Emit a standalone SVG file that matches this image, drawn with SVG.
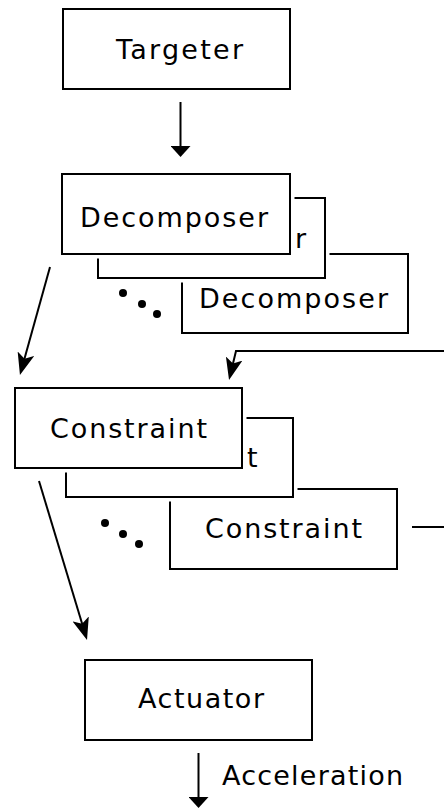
<svg xmlns="http://www.w3.org/2000/svg" width="444" height="809" viewBox="0 0 444 809">
  <style>
    .box{fill:#fff;stroke:#000;stroke-width:2}
    .halo{fill:#fff;stroke:#fff;stroke-width:9}
    .lbl{font-family:"DejaVu Sans",Verdana,sans-serif;font-size:27px;fill:#000}
    .wire{fill:none;stroke:#000;stroke-width:2}
    .dot{fill:#000}
  </style>
  <defs>
    <!-- short, wide head for straight vertical arrows -->
    <marker id="head-flat" viewBox="0 0 11 20" refX="6" refY="10" markerWidth="11" markerHeight="20" orient="auto" markerUnits="userSpaceOnUse">
      <path d="M0,0 L11,10 L0,20 z" fill="#000"/>
    </marker>
    <!-- long, notched head for slanted arrows -->
    <marker id="head-long" viewBox="0 0 22 17" refX="14" refY="8.5" markerWidth="22" markerHeight="17" orient="auto" markerUnits="userSpaceOnUse">
      <path d="M0,0 L22,8.5 L0,17 L5,8.5 z" fill="#000"/>
    </marker>
  </defs>

  <rect width="444" height="809" fill="#fff"/>

  <g id="targeter">
    <rect class="box" x="63" y="9" width="227" height="80"/>
    <text class="lbl" x="116" y="59" textLength="127" lengthAdjust="spacing">Targeter</text>
  </g>

  <!-- stack of decomposers, back to front -->
  <g id="decomposer-3">
    <rect class="box" x="182" y="254" width="226" height="79"/>
    <text class="lbl" x="199" y="308" textLength="189" lengthAdjust="spacing">Decomposer</text>
  </g>
  <g id="decomposer-2">
    <rect class="halo" x="98" y="198" width="227" height="80"/>
    <rect class="box" x="98" y="198" width="227" height="80"/>
    <text class="lbl" x="295" y="248">r</text>
  </g>
  <g id="decomposer-1">
    <rect class="halo" x="62" y="174" width="228" height="80"/>
    <rect class="box" x="62" y="174" width="228" height="80"/>
    <text class="lbl" x="80" y="227" textLength="188" lengthAdjust="spacing">Decomposer</text>
  </g>
  <g id="decomposer-more">
    <circle class="dot" cx="123" cy="293" r="4"/>
    <circle class="dot" cx="142" cy="304" r="4"/>
    <circle class="dot" cx="157" cy="314" r="4"/>
  </g>

  <!-- stack of constraints, back to front -->
  <g id="constraint-3">
    <rect class="box" x="170" y="489" width="227" height="80"/>
    <text class="lbl" x="205" y="538" textLength="157" lengthAdjust="spacing">Constraint</text>
  </g>
  <g id="constraint-2">
    <rect class="halo" x="66" y="418" width="227" height="79"/>
    <rect class="box" x="66" y="418" width="227" height="79"/>
    <text class="lbl" x="247" y="467">t</text>
  </g>
  <g id="constraint-1">
    <rect class="halo" x="15" y="388" width="227" height="80"/>
    <rect class="box" x="15" y="388" width="227" height="80"/>
    <text class="lbl" x="50" y="438" textLength="157" lengthAdjust="spacing">Constraint</text>
  </g>
  <g id="constraint-more">
    <circle class="dot" cx="105" cy="523" r="4"/>
    <circle class="dot" cx="123" cy="534" r="4"/>
    <circle class="dot" cx="139" cy="544" r="4"/>
  </g>

  <g id="actuator">
    <rect class="box" x="85" y="660" width="227" height="80"/>
    <text class="lbl" x="138" y="708" textLength="126" lengthAdjust="spacing">Actuator</text>
  </g>

  <g id="connectors">
    <path class="wire" d="M180.5,102 V152" marker-end="url(#head-flat)"/>
    <path class="wire" d="M50,267 L22.1,367.3" marker-end="url(#head-long)"/>
    <path class="wire" d="M444,351 H236 L230.9,372.2" marker-end="url(#head-long)"/>
    <path class="wire" d="M39,481 L84.7,632.3" marker-end="url(#head-long)"/>
    <path class="wire" d="M412,527 H444"/>
    <path class="wire" d="M198.5,753 V803" marker-end="url(#head-flat)"/>
    <text class="lbl" x="222" y="785" textLength="181" lengthAdjust="spacing">Acceleration</text>
  </g>
</svg>
